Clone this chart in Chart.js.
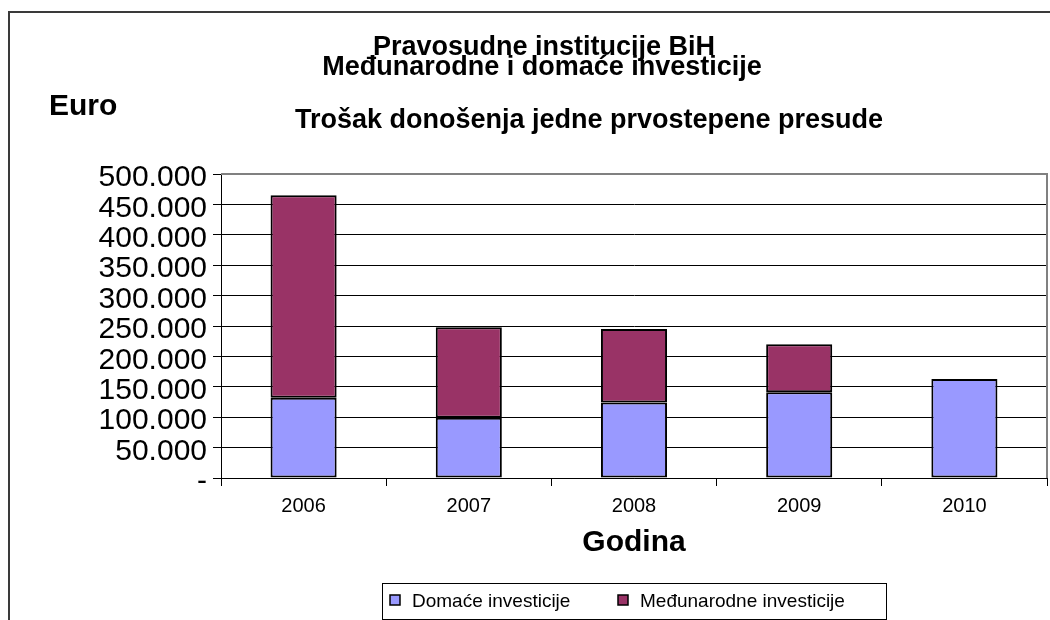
<!DOCTYPE html>
<html>
<head>
<meta charset="utf-8">
<title>Pravosudne institucije BiH</title>
<script src="https://cdn.jsdelivr.net/npm/chart.js@4.4.1/dist/chart.umd.min.js"></script>
<style>
    html, body { margin: 0; padding: 0; background: #ffffff; }
    #troskoviChart { display: block; }
</style>
</head>
<body>
<canvas id="troskoviChart" width="1050" height="620"></canvas>
<script>
// Podaci procitani sa grafika
const godine = ['2006', '2007', '2008', '2009', '2010'];
const domaceInvesticije = [132000, 99000, 124000, 141000, 163000];
const medjunarodneInvesticije = [333000, 149000, 121000, 79000, 0];
const seriesNames = ['Domaće investicije', 'Međunarodne investicije'];
const seriesColors = ['#9999FF', '#993366'];

const titleLines = ['Pravosudne institucije BiH', 'Međunarodne i domaće investicije'];
const subTitle = 'Trošak donošenja jedne prvostepene presude';
const yAxisTitle = 'Euro';
const xAxisTitle = 'Godina';

function formatEuro(value) {
    if (value === 0) return '-';
    return String(value).replace(/\B(?=(\d{3})+(?!\d))/g, '.');
}

// Okvir, naslovi i legenda
const extrasPlugin = {
    id: 'extras',
    beforeDraw(chart) {
        const ctx = chart.ctx;
        ctx.save();
        ctx.strokeStyle = '#3a3a3a';
        ctx.lineWidth = 2;
        ctx.beginPath();
        ctx.moveTo(9, 620);
        ctx.lineTo(9, 12);
        ctx.lineTo(1050, 12);
        ctx.stroke();
        ctx.restore();
    },
    afterDraw(chart) {
        const ctx = chart.ctx;
        const area = chart.chartArea;
        ctx.save();

        // plot frame (top + right)
        ctx.strokeStyle = '#808080';
        ctx.lineWidth = 2;
        ctx.beginPath();
        ctx.moveTo(area.left, area.top);
        ctx.lineTo(area.right, area.top);
        ctx.lineTo(area.right, area.bottom);
        ctx.stroke();

        ctx.fillStyle = '#000000';
        ctx.textBaseline = 'alphabetic';

        ctx.font = 'bold 27px "Liberation Sans", Arial, sans-serif';
        ctx.textAlign = 'center';
        ctx.fillText(titleLines[0], 544, 55);
        ctx.fillText(titleLines[1], 542, 75);
        ctx.fillText(subTitle, 589, 128);

        ctx.font = 'bold 30px "Liberation Sans", Arial, sans-serif';
        ctx.textAlign = 'left';
        ctx.fillText(yAxisTitle, 49, 115);
        ctx.textAlign = 'center';
        ctx.fillText(xAxisTitle, (area.left + area.right) / 2, 551);

        // legenda
        ctx.strokeStyle = '#000000';
        ctx.lineWidth = 1;
        ctx.strokeRect(382.5, 583.5, 504, 36);
        ctx.font = '19px "Liberation Sans", Arial, sans-serif';
        ctx.textAlign = 'left';
        const legendX = [390, 618];
        seriesNames.forEach((name, i) => {
            ctx.fillStyle = seriesColors[i];
            ctx.fillRect(legendX[i], 595, 10, 10);
            ctx.strokeStyle = '#000000';
            ctx.lineWidth = 1.5;
            ctx.strokeRect(legendX[i], 595, 10, 10);
            ctx.fillStyle = '#000000';
            ctx.fillText(name, legendX[i] + 22, 607);
        });

        ctx.restore();
    }
};

const chartData = {
    labels: godine,
    datasets: [
        {
            label: seriesNames[0],
            data: domaceInvesticije,
            backgroundColor: seriesColors[0],
            borderColor: '#000000',
            borderWidth: 2,
            borderSkipped: false,
            barPercentage: 0.4,
            categoryPercentage: 1.0
        },
        {
            label: seriesNames[1],
            data: medjunarodneInvesticije,
            backgroundColor: seriesColors[1],
            borderColor: '#000000',
            borderWidth: 2,
            borderSkipped: false,
            barPercentage: 0.4,
            categoryPercentage: 1.0
        }
    ]
};

const config = {
    type: 'bar',
    data: chartData,
    options: {
        responsive: false,
        animation: false,
        layout: {
            padding: { top: 174, right: 3, bottom: 0, left: 0 }
        },
        plugins: {
            legend: { display: false },
            title: { display: false },
            tooltip: { enabled: false }
        },
        scales: {
            x: {
                stacked: true,
                grid: {
                    offset: true,
                    drawOnChartArea: false,
                    drawTicks: true,
                    tickLength: 8,
                    color: '#000000'
                },
                border: { display: true, color: '#000000', width: 1 },
                ticks: {
                    color: '#000000',
                    padding: 8,
                    maxRotation: 0,
                    font: { family: '"Liberation Sans", Arial, sans-serif', size: 20 }
                },
                afterFit(scale) {
                    scale.height = 142;
                }
            },
            y: {
                stacked: true,
                min: 0,
                max: 500000,
                grid: {
                    color: '#000000',
                    lineWidth: 1,
                    drawTicks: true,
                    tickLength: 8
                },
                border: { display: true, color: '#000000', width: 1 },
                ticks: {
                    stepSize: 50000,
                    autoSkip: false,
                    labelOffset: 4,
                    color: '#000000',
                    padding: 6,
                    font: { family: '"Liberation Sans", Arial, sans-serif', size: 30 },
                    callback: (value) => formatEuro(value)
                },
                afterFit(scale) {
                    scale.width = 221;
                }
            }
        }
    },
    plugins: [extrasPlugin]
};

const ctx = document.getElementById('troskoviChart').getContext('2d');
new Chart(ctx, config);
</script>
</body>
</html>
